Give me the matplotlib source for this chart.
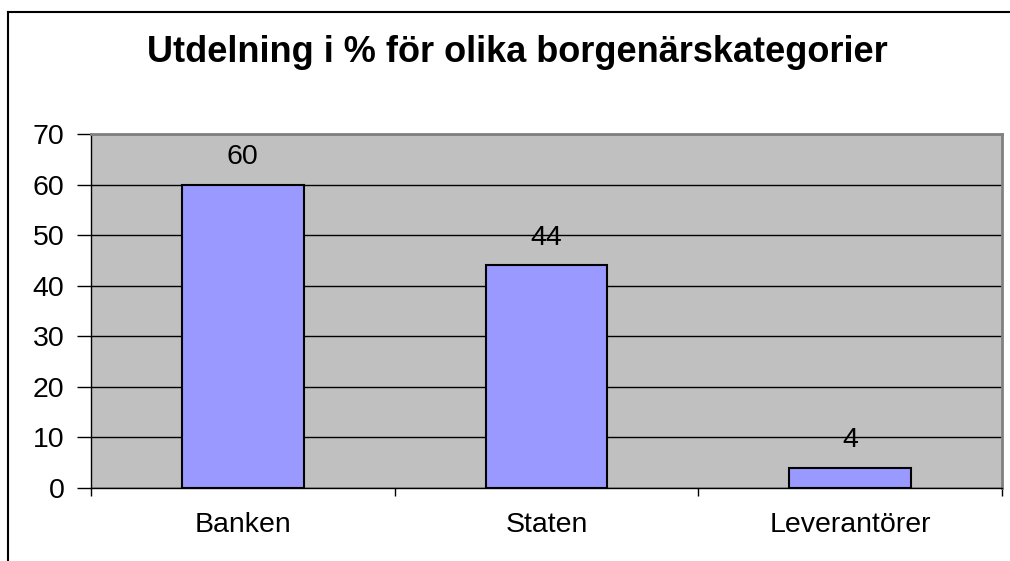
import matplotlib
matplotlib.use("Agg")
import matplotlib.pyplot as plt
from matplotlib.lines import Line2D

categories = ["Banken", "Staten", "Leverantörer"]
values = [60, 44, 4]
y_ticks = [0, 10, 20, 30, 40, 50, 60, 70]
title = "Utdelning i % för olika borgenärskategorier"

plt.rcParams['font.family'] = ['Liberation Sans', 'DejaVu Sans']

fig = plt.figure(figsize=(10.1, 5.61), dpi=100)
fig.patch.set_facecolor("white")
ax = fig.add_axes([91/1010, 1-488/561, (1002-91)/1010, (488-134)/561])
ax.set_facecolor("#C0C0C0")

x = list(range(len(categories)))
ax.bar(x, values, width=0.4, color="#9999FF", edgecolor="black", linewidth=1.5, zorder=3)
ax.set_xlim(-0.5, len(categories)-0.5)
ax.set_ylim(0, 70)
ax.set_yticks(y_ticks)
ax.yaxis.grid(True, color="black", linewidth=1.0, zorder=0)
ax.set_axisbelow(True)

for xi, v in zip(x, values):
    ax.annotate(str(v), (xi, v), xytext=(0, 15), textcoords="offset points",
                ha="center", va="baseline", fontsize=20.5, color="black", zorder=4)

ax.set_xticks([])
ax.set_xticks([-0.5, 0.5, 1.5, 2.5], minor=True)
ax.tick_params(axis="x", which="minor", length=6, width=1, direction="out", color="black")
for xi, c in zip(x, categories):
    ax.annotate(c, (xi, 0), xycoords=("data", "axes fraction"), xytext=(0, -31.7),
                textcoords="offset points", ha="center", va="baseline", fontsize=20.5)
ax.tick_params(axis="y", length=10, width=1, direction="out", labelsize=20.5, pad=9)

for s in ["top", "right"]:
    ax.spines[s].set_color("#808080")
    ax.spines[s].set_linewidth(2)
for s in ["left", "bottom"]:
    ax.spines[s].set_color("black")
    ax.spines[s].set_linewidth(1)

fig.text(517/1010, 1-53/561, title, ha="center", va="center", fontsize=26, fontweight="bold")

fig.add_artist(Line2D([8/1010, 8/1010], [0, 1-12/561], transform=fig.transFigure, color="black", linewidth=1.5))
fig.add_artist(Line2D([8/1010, 1], [1-12/561, 1-12/561], transform=fig.transFigure, color="black", linewidth=1.5))

fig.savefig("out.png", dpi=100)
